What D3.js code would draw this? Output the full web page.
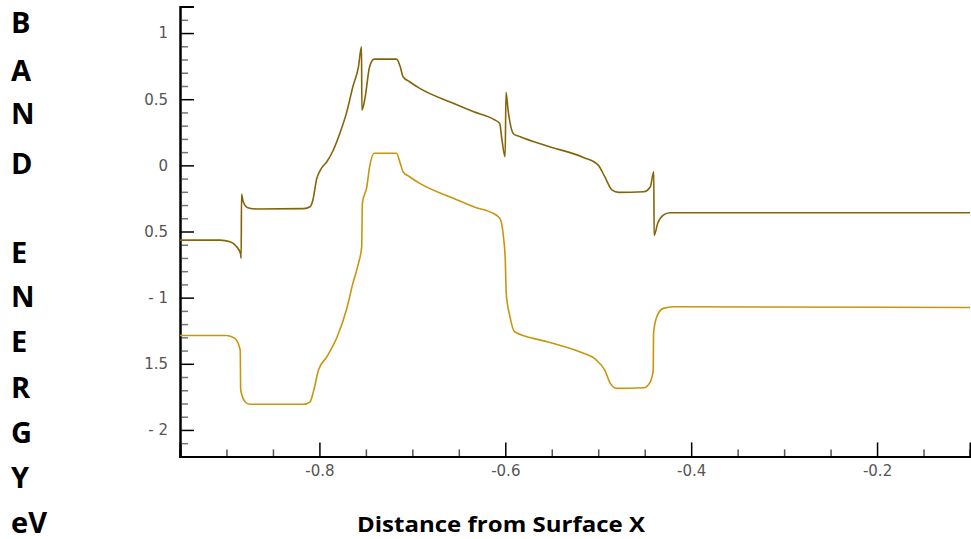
<!DOCTYPE html>
<html>
<head>
<meta charset="utf-8">
<script src="https://cdn.jsdelivr.net/npm/d3@7"></script>
<style>
  html, body { margin: 0; padding: 0; background: #fff; }
  svg { display: block; }
</style>
</head>
<body>
<svg id="chart" width="971" height="539"></svg>
<script>
// ---- data ----
const upperX = [-0.95, -0.907, -0.896, -0.889, -0.885, -0.8842, -0.8838, -0.882, -0.877, -0.867, -0.817, -0.810, -0.807, -0.803, -0.799, -0.792, -0.785, -0.778, -0.771, -0.764, -0.758, -0.7547, -0.7543, -0.751, -0.746, -0.741, -0.717, -0.713, -0.710, -0.703, -0.692, -0.656, -0.634, -0.611, -0.606, -0.604, -0.6002, -0.5992, -0.597, -0.591, -0.584, -0.555, -0.516, -0.500, -0.493, -0.485, -0.478, -0.451, -0.444, -0.4402, -0.4399, -0.436, -0.430, -0.423, -0.1];
const upperY = [-0.565, -0.565, -0.577, -0.615, -0.665, -0.703, -0.217, -0.275, -0.320, -0.330, -0.327, -0.313, -0.262, -0.104, -0.036, 0.027, 0.116, 0.242, 0.393, 0.594, 0.745, 0.896, 0.418, 0.506, 0.745, 0.803, 0.803, 0.745, 0.670, 0.632, 0.582, 0.469, 0.405, 0.342, 0.317, 0.216, 0.065, 0.552, 0.418, 0.237, 0.216, 0.146, 0.060, 0.002, -0.086, -0.187, -0.204, -0.200, -0.162, -0.048, -0.531, -0.438, -0.376, -0.358, -0.358];

const lowerX = [-0.95, -0.900, -0.891, -0.8852, -0.8847, -0.880, -0.875, -0.817, -0.810, -0.806, -0.801, -0.792, -0.781, -0.771, -0.764, -0.758, -0.7545, -0.7538, -0.749, -0.746, -0.741, -0.717, -0.713, -0.710, -0.703, -0.692, -0.656, -0.634, -0.609, -0.605, -0.602, -0.600, -0.599, -0.595, -0.590, -0.555, -0.520, -0.502, -0.493, -0.487, -0.480, -0.451, -0.444, -0.4408, -0.4405, -0.437, -0.430, -0.419, -0.1];
const lowerY = [-1.286, -1.286, -1.308, -1.396, -1.698, -1.787, -1.806, -1.806, -1.787, -1.698, -1.547, -1.447, -1.298, -1.094, -0.892, -0.741, -0.615, -0.287, -0.162, -0.011, 0.091, 0.091, 0.015, -0.048, -0.086, -0.136, -0.249, -0.313, -0.379, -0.413, -0.540, -0.716, -0.967, -1.144, -1.258, -1.333, -1.409, -1.472, -1.547, -1.648, -1.686, -1.681, -1.636, -1.547, -1.270, -1.144, -1.081, -1.069, -1.075];

const xTickValues = [-0.8, -0.6, -0.4, -0.2];
const xTickLabels = ["-0.8", "-0.6", "-0.4", "-0.2"];
const xMinorTicks = [-0.9, -0.85, -0.75, -0.7, -0.65, -0.55, -0.5, -0.45, -0.35, -0.3, -0.25, -0.15, -0.1];
const yTickValues = [1, 0.5, 0, -0.5, -1, -1.5, -2];
const yTickLabels = ["1", "0.5", "0", "0.5", "- 1", "1.5", "- 2"];
const yMinorTicks = [1.2, 1.1, 0.9, 0.8, 0.7, 0.6, 0.4, 0.3, 0.2, 0.1, -0.1, -0.2, -0.3, -0.4, -0.6, -0.7, -0.8, -0.9, -1.1, -1.2, -1.3, -1.4, -1.6, -1.7, -1.8, -1.9, -2.1, -2.2];
const yLabelLines = ["B", "A", "N", "D", "", "E", "N", "E", "R", "G", "Y", "eV"];
const xTitle = "Distance from Surface X";

// ---- layout ----
const svg = d3.select("#chart");
const x = d3.scaleLinear().domain([-0.95, -0.1]).range([180, 970]);
const y = d3.scaleLinear().domain([-2.2, 1.2]).range([456.4, 6.6]);

// minor ticks
const gx = svg.append("g").attr("transform", `translate(0,${y(-2.2)})`);
gx.call(d3.axisBottom(x).tickValues(xMinorTicks).tickSize(-7).tickFormat(""));
const gxMaj = svg.append("g").attr("transform", `translate(0,${y(-2.2)})`);
gxMaj.call(d3.axisBottom(x).tickValues(xTickValues).tickSize(-14).tickPadding(9)
  .tickFormat((d, i) => xTickLabels[i]));

const gy = svg.append("g").attr("transform", `translate(${x(-0.95)},0)`);
gy.call(d3.axisLeft(y).tickValues(yMinorTicks).tickSize(-8).tickFormat(""));
const gyMaj = svg.append("g").attr("transform", `translate(${x(-0.95)},0)`);
gyMaj.call(d3.axisLeft(y).tickValues(yTickValues).tickSize(-14).tickPadding(12)
  .tickFormat((d, i) => yTickLabels[i]));

[gx, gxMaj, gy, gyMaj].forEach(g => {
  g.select(".domain").attr("stroke", "#000").attr("stroke-width", 2);
  g.selectAll(".tick line").attr("stroke", "#000").attr("stroke-width", 1.5);
  g.selectAll(".tick text").attr("fill", "#555")
    .attr("font-family", "DejaVu Sans, sans-serif").attr("font-size", 15);
});
gx.selectAll(".tick line").attr("stroke", "#555");
gy.selectAll(".tick line").attr("stroke", "#777");

// curves
const line = d3.line().curve(d3.curveMonotoneX).x(d => x(d[0])).y(d => y(d[1]));
const lowerData = lowerX.map((v, i) => [v, lowerY[i]]);
const upperData = upperX.map((v, i) => [v, upperY[i]]);
svg.append("path").datum(lowerData).attr("d", line)
  .attr("fill", "none").attr("stroke", "#C8960E").attr("stroke-width", 1.6)
  .attr("stroke-linejoin", "round");
svg.append("path").datum(upperData).attr("d", line)
  .attr("fill", "none").attr("stroke", "#856408").attr("stroke-width", 1.6)
  .attr("stroke-linejoin", "round");

// titles
svg.append("text").attr("x", 501).attr("y", 532).attr("text-anchor", "middle")
  .attr("font-family", "Open Sans, sans-serif").attr("font-weight", 700)
  .attr("font-size", 22).attr("textLength", 288).attr("lengthAdjust", "spacingAndGlyphs")
  .attr("fill", "#000").text(xTitle);

const yLab = svg.append("text").attr("font-family", "Open Sans, sans-serif")
  .attr("font-weight", 700).attr("font-size", 29).attr("fill", "#000");
const baselines = [33, 81, 124, 174, 0, 263, 307, 352, 398, 443, 488, 533];
yLabelLines.forEach((t, i) => {
  if (!t) return;
  yLab.append("tspan").attr("x", 11).attr("y", baselines[i]).text(t);
});
</script>
</body>
</html>
